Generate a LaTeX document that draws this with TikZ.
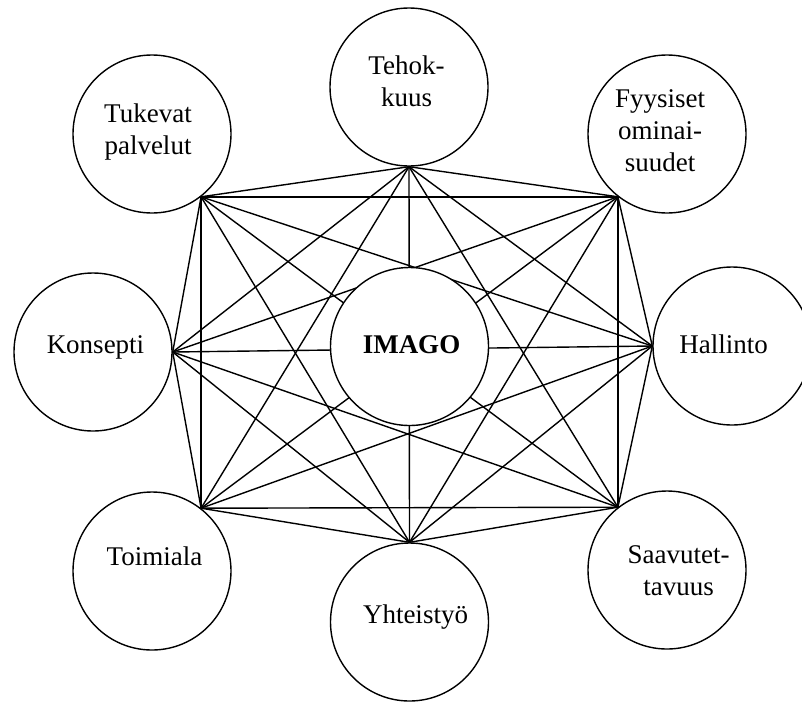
\documentclass[tikz,border=0pt]{standalone}
\usepackage{fontspec}
\setmainfont{Liberation Serif}
\begin{document}
\begin{tikzpicture}[x=1pt,y=-1pt,
  circ/.style={circle,draw,line width=1.4pt,fill=white,minimum size=158pt,inner sep=0pt},
  lbl/.style={anchor=base,inner sep=0pt,font=\fontsize{27}{32}\selectfont},
  link/.style={line width=1.4pt}]
\useasboundingbox (0,0) rectangle (802,702);
% outer circles
\node[circ] (tuk) at (152,134) {};
\node[circ] (teh) at (409,87) {};
\node[circ] (fyy) at (667,134) {};
\node[circ] (kon) at (93,352) {};
\node[circ] (hal) at (732,346) {};
\node[circ] (toi) at (152,571) {};
\node[circ] (yht) at (409.5,622) {};
\node[circ] (saa) at (667,570) {};
% connection points
\coordinate (p1) at (tuk.-52);
\coordinate (p2) at (teh.south);
\coordinate (p3) at (fyy.-128);
\coordinate (p4) at (hal.west);
\coordinate (p5) at (saa.128);
\coordinate (p6) at (yht.north);
\coordinate (p7) at (toi.52);
\coordinate (p8) at (kon.east);
% every point connected with every other
\foreach \i in {1,...,8}{
  \foreach \j in {\i,...,8}{
    \ifnum\i<\j \draw[link] (p\i) -- (p\j); \fi
  }
}
% central circle on top
\node[circ] (ima) at (409.5,346.5) {};
% texts
\node[lbl] (ltuk) at (148,122) {\begin{tabular}[t]{@{}c@{}}Tukevat\\palvelut\end{tabular}};
\node[lbl] (lteh) at (406.5,74) {\begin{tabular}[t]{@{}c@{}}Tehok-\\kuus\end{tabular}};
\node[lbl] (lfyy) at (660,107) {\begin{tabular}[t]{@{}c@{}}Fyysiset\\ominai-\\suudet\end{tabular}};
\node[lbl] (lkon) at (95.5,353) {Konsepti};
\node[lbl,font=\fontsize{27}{32}\selectfont\bfseries] (lima) at (411.5,353) {IMAGO};
\node[lbl] (lhal) at (723.5,353) {Hallinto};
\node[lbl] (ltoi) at (154.5,565) {Toimiala};
\node[lbl] (lyht) at (415.5,623) {Yhteistyö};
\node[lbl] (lsaa) at (678.5,563) {\begin{tabular}[t]{@{}c@{}}Saavutet-\\tavuus\hspace{20pt}\end{tabular}};
\end{tikzpicture}
\end{document}
